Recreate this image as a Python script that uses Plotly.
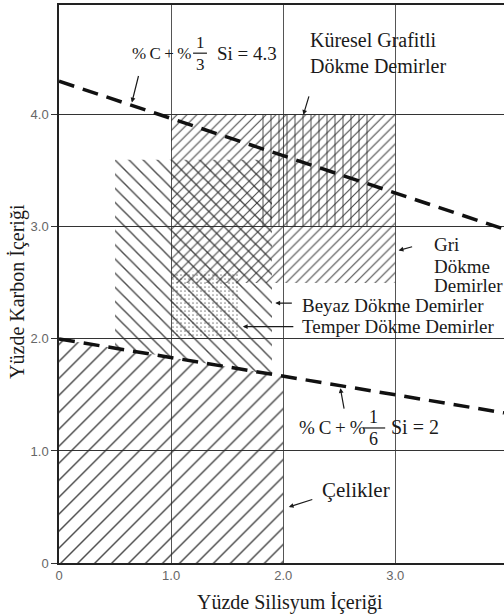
import plotly.graph_objects as go

# ---- data ----
si_ticks = [0, 1.0, 2.0, 3.0]
si_ticktext = ["0", "1.0", "2.0", "3.0"]
c_ticks = [0, 1.0, 2.0, 3.0, 4.0]
c_ticktext = ["0", "1.0", "2.0", "3.0", "4.0"]

# Çelikler (steels)
steel_si = [0.0, 2.0, 2.0, 0.0]
steel_c = [0.0, 0.0, 1.67, 2.0]
# Beyaz dökme demirler (white cast irons)
white_si = [0.5, 1.9, 1.9, 0.5]
white_c = [1.92, 1.68, 3.6, 3.6]
# Gri dökme demirler (gray cast irons)
gray_si = [1.0, 3.0, 3.0, 1.0]
gray_c = [2.5, 2.5, 4.0, 4.0]
# Küresel grafitli dökme demirler (ductile)
ductile_si = [1.8, 2.8, 2.8, 1.8]
ductile_c = [3.0, 3.0, 4.0, 4.0]
# Temper dökme demirler (malleable)
temper_si = [1.0, 1.6, 1.6, 1.0]
temper_c = [2.0, 2.0, 2.6, 2.6]

# Carbon-equivalent lines
ce43_si = [0.0, 3.97]
ce43_c = [4.3, 2.98]
ce2_si = [0.0, 3.97]
ce2_c = [2.0, 1.34]

X_MAX = 3.97
Y_MAX = 4.98

SERIF = "Liberation Serif"
SANS = "Liberation Sans"
INK = "#1a1a1a"
TS = "\u2009"  # thin space

fig = go.Figure()


def region(xs, ys, shape, size, solidity, name, opacity=0.85):
    fig.add_trace(go.Scatter(
        x=xs + [xs[0]], y=ys + [ys[0]], mode="lines", fill="toself",
        line=dict(width=0, color="rgba(0,0,0,0)"),
        fillcolor="rgba(0,0,0,0)",
        fillpattern=dict(shape=shape, size=size, solidity=solidity,
                         fgcolor="#2a2a2a", fgopacity=opacity,
                         bgcolor="rgba(0,0,0,0)"),
        name=name, showlegend=False, hoverinfo="skip"))


region(steel_si, steel_c, "/", 12, 0.12, "Çelikler")
region(white_si, white_c, "\\", 10, 0.14, "Beyaz")
region(gray_si, gray_c, "/", 7, 0.16, "Gri")
region(ductile_si, ductile_c, "|", 8, 0.12, "Küresel")
region(temper_si, temper_c, ".", 4, 0.14, "Temper", 0.55)

for xs, ys in [(ce43_si, ce43_c), (ce2_si, ce2_c)]:
    fig.add_trace(go.Scatter(
        x=xs, y=ys, mode="lines",
        line=dict(color="#111111", width=3.5, dash="16px,9px"),
        showlegend=False, hoverinfo="skip"))

ann = []


def txt(x, y, s, size=20, xanchor="left"):
    ann.append(dict(x=x, y=y, xref="x", yref="y", text=s, showarrow=False,
                    xanchor=xanchor, yanchor="middle",
                    font=dict(family=SERIF, size=size, color=INK)))


def arrow(x, y, ax, ay):
    ann.append(dict(x=x, y=y, xref="x", yref="y", text="", showarrow=True,
                    ax=ax, ay=ay, arrowhead=2, arrowsize=0.8, arrowwidth=1.2,
                    arrowcolor=INK))


pc = "%" + TS + "C" + TS + "+" + TS + "%"
# Formula 1
txt(0.634, 4.55, pc, 17)
txt(1.26, 4.645, "1", 17, "center")
txt(1.26, 4.45, "3", 17, "center")
txt(1.39, 4.55, "Si = 4.3", 19)
# Formula 2
txt(2.125, 1.21, pc, 19)
txt(2.81, 1.30, "1", 18, "center")
txt(2.81, 1.11, "6", 18, "center")
txt(2.94, 1.21, "Si = 2", 20)

txt(2.22, 4.67, "Küresel Grafitli")
txt(2.22, 4.44, "Dökme Demirler")
txt(3.33, 2.84, "Gri", 19)
txt(3.33, 2.645, "Dökme", 19)
txt(3.33, 2.475, "Demirler", 19)
txt(2.15, 2.30, "Beyaz Dökme Demirler", 19)
txt(2.15, 2.115, "Temper Dökme Demirler", 19)
txt(2.33, 0.65, "Çelikler", 21)

# leaders
arrow(0.65, 4.11, 7, -28)
arrow(2.18, 4.0, 6, -20)
arrow(3.03, 2.79, 15, -4)
arrow(1.93, 2.32, 18, 0)
arrow(1.64, 2.11, 52, 0)
arrow(2.51, 1.56, 4, 22)
arrow(2.05, 0.50, 25, -8)

# axis titles
ann.append(dict(x=2.06, y=-0.070, xref="x", yref="paper",
                text="Yüzde Silisyum İçeriği", showarrow=False,
                xanchor="center", yanchor="middle",
                font=dict(family=SERIF, size=20, color=INK)))
ann.append(dict(x=-0.092, y=2.42, xref="paper", yref="y",
                text="Yüzde Karbon İçeriği", showarrow=False, textangle=-90,
                xanchor="center", yanchor="middle",
                font=dict(family=SERIF, size=20, color=INK)))

shapes = [
    dict(type="line", xref="x", yref="y", x0=1.196, x1=1.32, y0=4.55, y1=4.55,
         line=dict(color=INK, width=1.2)),
    dict(type="line", xref="x", yref="y", x0=2.71, x1=2.91, y0=1.205, y1=1.205,
         line=dict(color=INK, width=1.2)),
]

fig.update_layout(
    width=504, height=616,
    margin=dict(l=59, r=0, t=5, b=53),
    paper_bgcolor="white", plot_bgcolor="white",
    annotations=ann, shapes=shapes,
    xaxis=dict(range=[0, X_MAX], tickvals=si_ticks, ticktext=si_ticktext,
               showgrid=True, gridcolor="#555555", gridwidth=1,
               zeroline=False, showline=True, linecolor="#222222",
               linewidth=1.5, mirror=True, ticks="", ticklen=0,
               tickfont=dict(family=SANS, size=13, color="#666666")),
    yaxis=dict(range=[0, Y_MAX], tickvals=c_ticks, ticktext=c_ticktext,
               showgrid=True, gridcolor="#333333", gridwidth=1,
               zeroline=False, showline=True, linecolor="#222222",
               linewidth=1.5, ticks="outside", ticklen=6,
               tickcolor="#333333",
               tickfont=dict(family=SANS, size=13, color="#666666")),
)

fig.write_html("out.html",
               config={"displayModeBar": False},
               post_script="document.body.style.margin='0';"
                           "document.body.style.overflow='hidden';")
